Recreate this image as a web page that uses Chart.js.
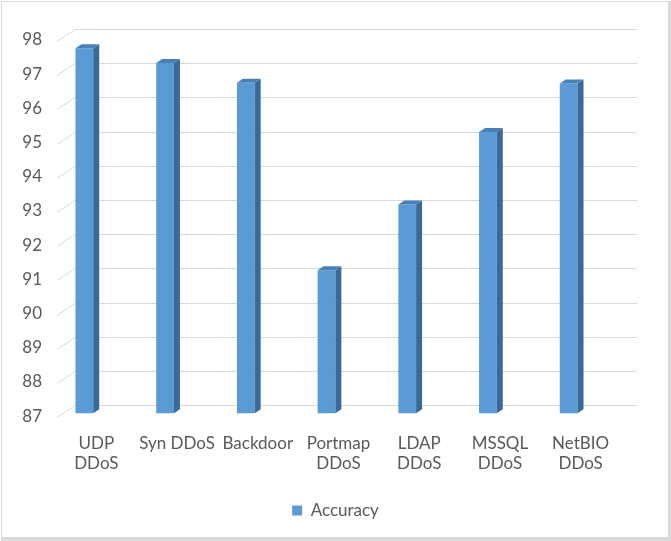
<!DOCTYPE html>
<html>
<head>
<meta charset="utf-8">
<script src="https://cdn.jsdelivr.net/npm/chart.js@4.4.1/dist/chart.umd.min.js"></script>
<style>
    html, body { margin: 0; padding: 0; background: #ffffff; }
    #wrap { width: 671px; height: 541px; position: relative; }
</style>
</head>
<body>
<div id="wrap"><canvas id="accuracyChart" width="671" height="541"></canvas></div>
<script>
const categories = [
    ['UDP', 'DDoS'],
    'Syn DDoS',
    'Backdoor',
    ['Portmap', 'DDoS'],
    ['LDAP', 'DDoS'],
    ['MSSQL', 'DDoS'],
    ['NetBIO', 'DDoS']
];
const accuracy = [97.67, 97.24, 96.66, 91.18, 93.1, 95.22, 96.64];
const yTicks = [87, 88, 89, 90, 91, 92, 93, 94, 95, 96, 97, 98];

const textColor = '#595959';
const fontFamily = 'Lato, "Liberation Sans", sans-serif';

// back wall grid + left floor diagonals, offset behind the bars
const wallGrid = {
    id: 'wallGrid',
    beforeDatasetsDraw(chart) {
        const ctx = chart.ctx;
        const y = chart.scales.y;
        ctx.save();
        ctx.strokeStyle = '#d9d9d9';
        ctx.lineWidth = 1;
        yTicks.forEach(v => {
            const py = Math.round(y.getPixelForValue(v)) + 0.5;
            ctx.beginPath();
            ctx.moveTo(57, py + 4);
            ctx.lineTo(75, py - 8);
            ctx.lineTo(637, py - 8);
            ctx.stroke();
        });
        ctx.restore();
    }
};

// side and top faces to fake the 3D columns
const barDepth = {
    id: 'barDepth',
    afterDatasetsDraw(chart) {
        const ctx = chart.ctx;
        const dx = 6, dy = -4;
        const floor = chart.chartArea.bottom;
        ctx.save();
        chart.getDatasetMeta(0).data.forEach(bar => {
            const p = bar.getProps(['x', 'y', 'base', 'width'], true);
            const l = p.x - p.width / 2, r = p.x + p.width / 2;
            const t = p.y, b = Math.min(p.base, floor);
            ctx.fillStyle = '#3b6a98';
            ctx.beginPath();
            ctx.moveTo(r, t);
            ctx.lineTo(r + dx, t + dy);
            ctx.lineTo(r + dx, b + dy);
            ctx.lineTo(r, b);
            ctx.closePath();
            ctx.fill();
            ctx.fillStyle = '#4a80b8';
            ctx.beginPath();
            ctx.moveTo(l, t);
            ctx.lineTo(l + dx, t + dy);
            ctx.lineTo(r + dx, t + dy);
            ctx.lineTo(r, t);
            ctx.closePath();
            ctx.fill();
        });
        ctx.restore();
    }
};

// light frame round the chart
const frame = {
    id: 'frame',
    beforeDraw(chart) {
        const ctx = chart.ctx;
        ctx.save();
        ctx.fillStyle = '#ffffff';
        ctx.fillRect(0, 0, chart.width, chart.height);
        ctx.fillStyle = '#d9d9d9';
        ctx.fillRect(1, 1, 668, 1);
        ctx.fillRect(1, 1, 1, 537);
        ctx.fillRect(668, 1, 3, 540);
        ctx.fillRect(1, 537, 670, 4);
        ctx.restore();
    }
};

const ctx = document.getElementById('accuracyChart').getContext('2d');
const accuracyChart = new Chart(ctx, {
    type: 'bar',
    data: {
        labels: categories,
        datasets: [{
            label: 'Accuracy',
            data: accuracy,
            backgroundColor: '#5b9bd5',
            borderWidth: 0,
            barPercentage: 0.22,
            categoryPercentage: 1
        }]
    },
    options: {
        responsive: false,
        animation: false,
        layout: {
            padding: { top: 37, right: 0, bottom: 12, left: 0 }
        },
        scales: {
            x: {
                afterFit(scale) { scale.height -= 4; },
                grid: { display: false, drawTicks: false },
                border: { display: false },
                ticks: {
                    color: textColor,
                    font: { family: fontFamily, size: 17 },
                    padding: 20,
                    labelOffset: 12,
                    maxRotation: 0,
                    autoSkip: false
                }
            },
            y: {
                min: 87,
                max: 98,
                afterFit(scale) { scale.width = 44; },
                afterBuildTicks(scale) {
                    scale.ticks = yTicks.map(v => ({ value: v }));
                },
                grid: { display: false, drawTicks: false },
                border: { display: false },
                ticks: {
                    color: textColor,
                    font: { family: fontFamily, size: 17 },
                    padding: 2,
                    labelOffset: 3
                }
            },
            // empty right margin so the legend centres on the whole chart
            yRight: {
                position: 'right',
                afterFit(scale) { scale.width = 62; },
                grid: { display: false, drawTicks: false },
                border: { display: false },
                ticks: { display: false }
            }
        },
        plugins: {
            legend: {
                position: 'bottom',
                labels: {
                    color: textColor,
                    font: { family: fontFamily, size: 17 },
                    boxWidth: 10,
                    boxHeight: 10,
                    padding: 12
                }
            },
            tooltip: { enabled: false }
        }
    },
    plugins: [frame, wallGrid, barDepth]
});
</script>
</body>
</html>
